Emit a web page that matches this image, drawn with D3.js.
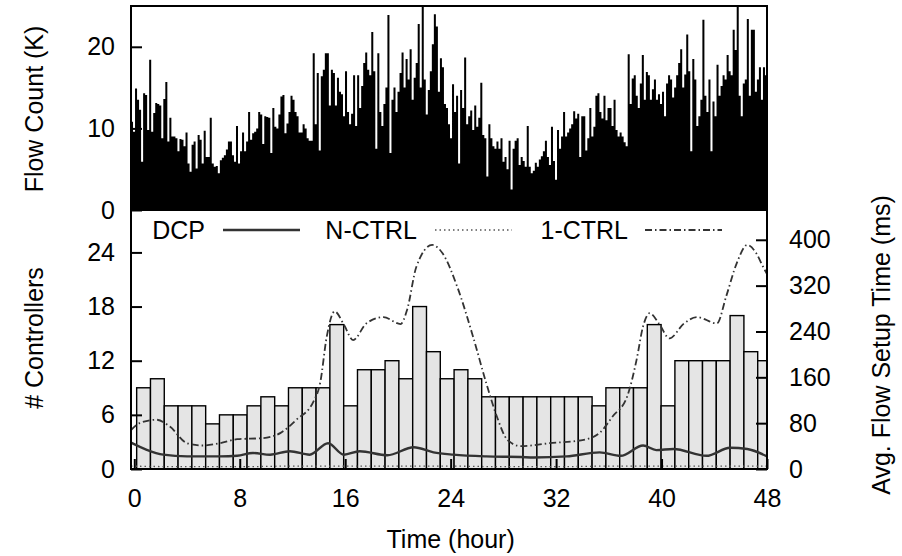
<!DOCTYPE html>
<html>
<head>
<meta charset="utf-8">
<script src="https://cdn.jsdelivr.net/npm/d3@7"></script>
<style>
  body { margin: 0; background: #fff; }
  text { font-family: "Liberation Sans", Arial, sans-serif; }
</style>
</head>
<body>
<div id="container"></div>
<script>
/* CONSTANTS AND GLOBALS */
const width = 902,
  height = 556,
  frame = { left: 131, right: 767, top: 6, mid: 210, bottom: 469 }

/* DATA */
// flow count per slot (K), evenly spread over the 48 hours
const flowCount = [
  10.8, 9.6, 14.9, 13.5, 12.3, 5.9, 14.3, 14.1, 9.8, 18.4, 9.6, 11.9, 13.1, 13.0, 12.8, 8.8,
  13.6, 15.7, 8.4, 11.3, 9.0, 9.0, 8.8, 7.2, 8.7, 8.6, 7.8, 9.5, 5.7, 4.7, 8.0, 8.4,
  5.1, 9.2, 8.6, 5.7, 9.7, 6.5, 6.5, 11.3, 5.7, 5.3, 5.4, 4.5, 6.1, 6.4, 6.7, 7.4,
  8.4, 8.4, 6.7, 5.9, 10.3, 5.7, 7.2, 9.5, 7.2, 8.4, 12.0, 8.6, 9.4, 9.6, 10.0, 12.0,
  11.7, 8.1, 11.5, 11.4, 11.3, 7.0, 12.5, 10.2, 10.0, 11.7, 13.9, 14.1, 9.4, 10.6, 12.0,
  14.0, 13.5, 12.0, 11.5, 9.5, 9.5, 10.5, 10.0, 8.8, 8.5, 8.5, 19.2, 10.5, 16.8, 7.3, 16.4,
  17.2, 19.2, 19.2, 12.8, 17.2, 16.8, 12.8, 16.2, 14.5, 14.2, 11.5, 17.0, 12.0, 10.5, 11.8, 16.5,
  10.3, 16.5, 12.5, 15.2, 18.0, 19.3, 17.2, 16.5, 21.8, 17.0, 7.5, 19.2, 12.0, 10.3, 13.0, 15.0,
  23.9, 7.0, 13.5, 15.0, 12.0, 14.5, 16.8, 19.3, 15.0, 18.5, 16.0, 19.7, 13.5, 16.2, 18.0, 22.8,
  15.0, 25.0, 16.0, 11.7, 14.7, 17.0, 20.3, 24.0, 22.5, 14.5, 18.6,
  17.5, 13.0, 12.5, 10.5, 8.8, 15.4, 12.0, 14.0, 5.7, 14.7, 12.5, 18.7, 10.5, 11.5, 12.2, 9.8,
  12.8, 10.2, 11.3, 15.6, 9.2, 8.8, 4.1, 10.5, 8.8, 7.8, 7.5, 8.4, 7.5, 8.8, 5.9, 6.5,
  5.0, 8.5, 2.5, 7.5, 8.5, 8.8, 5.5, 6.5, 6.0, 5.3, 10.3, 5.3, 4.5, 4.8, 5.8, 5.3,
  6.2, 6.6, 7.2, 8.5, 6.5, 5.5, 10.2, 6.0, 3.7, 9.8, 7.5, 9.0, 12.0, 9.0, 9.5, 10.0,
  10.5, 12.1, 11.2, 11.8, 6.5, 11.5, 11.5, 7.3, 8.8, 12.5, 9.0, 10.2, 14.0, 14.3, 12.0, 11.2,
  14.0, 11.0, 12.5, 12.5, 10.3, 13.5, 9.8, 9.0, 9.5, 9.0, 8.3, 7.8, 19.1, 13.0, 16.1, 16.5,
  14.0, 12.5, 15.5, 19.0, 13.5, 16.9, 16.5, 13.5, 14.8, 16.0, 13.5, 14.2, 13.0, 14.5, 11.5, 15.5,
  16.5, 16.0, 13.8, 15.0, 16.5, 18.0, 19.7, 15.0, 16.6, 21.5, 17.0, 7.2, 18.5, 16.0, 10.3, 11.5,
  13.5, 23.3, 14.0, 12.0, 16.0, 7.2, 13.3, 11.5, 17.8, 14.0, 15.2, 16.5, 16.0, 19.0, 17.0, 16.5,
  22.1, 19.6, 25.0, 14.0, 11.5, 15.5, 16.0, 23.4, 14.0, 22.1, 22.1, 14.5, 16.0, 17.5, 13.5, 17.5, 16.5
]

// number of controllers per interval
const ctrlCount = [
  9, 10, 7, 7, 7, 5, 6, 6, 7, 8, 7, 9, 9, 9, 16, 7, 11, 11, 12, 10, 18, 13, 10,
  11, 10, 8, 8, 8, 8, 8, 8, 8, 8, 7, 9, 9, 9, 16, 7, 12, 12, 12, 12, 17, 13, 12
]

// avg flow setup time (ms)
const dcpHour = [-0.25, 0.9, 2.2, 4.0, 6.5, 7.8, 9.0, 10.3, 11.8, 13.3, 14.7, 15.9, 17.1, 19.2, 21.2,
  22.7, 24.2, 26.7, 29.3, 30.3, 32.8, 35.3, 36.9, 38.6, 39.6, 40.9, 43.4, 45.2, 46.5, 48]
const dcpMs = [46, 34, 25, 22, 22, 23, 28, 25, 31, 25, 45, 25, 31, 24, 38,
  29, 25, 22, 21, 20, 22, 29, 23, 41, 33, 35, 23, 37, 35, 22]

const nCtrlHour = [-0.25, 4, 8, 12, 16, 20, 24, 28, 32, 36, 40, 44, 48]
const nCtrlMs = [5, 4, 4, 5, 5, 5, 5, 4, 4, 5, 5, 5, 5]

const oneCtrlHour = [-0.25, 0.4, 1.7, 2.7, 4.0, 5.2, 6.5, 7.8, 9.8, 11.1, 12.3, 13.6, 14.1, 14.6, 15.2,
  15.9, 16.6, 17.6, 18.9, 20.2, 20.7, 21.4, 22.6, 23.4, 24.5, 25.7, 26.7, 27.5, 28.3, 29.3,
  31.5, 34.1, 35.3, 36.3, 37.4, 38.1, 38.6, 39.1, 39.8, 40.6, 41.7, 42.7, 44.2, 44.9, 45.7,
  46.5, 47.2, 47.7, 48]
const oneCtrlMs = [68, 80, 86, 74, 45, 41, 45, 52, 54, 63, 86, 118, 150, 231, 275,
  252, 225, 254, 265, 253, 278, 353, 391, 376, 318, 231, 150, 92, 51, 40,
  45, 51, 63, 92, 127, 190, 249, 272, 254, 228, 254, 265, 254, 301, 359,
  391, 376, 353, 340]

const hourTicks = [0, 8, 16, 24, 32, 40, 48]
const flowTicks = [0, 10, 20]
const ctrlTicks = [0, 6, 12, 18, 24]
const msTicks = [0, 80, 160, 240, 320, 400]

/* SCALES */
const xScale = d3.scaleLinear().domain([-0.25, 48]).range([frame.left, frame.right])
const yFlow = d3.scaleLinear().domain([0, 25]).range([frame.mid, frame.top])
const yCtrl = d3.scaleLinear().domain([0, 28.7]).range([frame.bottom, frame.mid])
const yMs = d3.scaleLinear().domain([0, 452]).range([frame.bottom, frame.mid])

// controller bars: 46 intervals a bit longer than an hour
const barStart = 0.18, barHours = 1.047

/* SVG */
const svg = d3.select("#container")
  .append("svg")
  .attr("width", width)
  .attr("height", height)

const defs = svg.append("defs")
defs.append("clipPath").attr("id", "clipTop")
  .append("rect")
  .attr("x", frame.left).attr("y", frame.top)
  .attr("width", frame.right - frame.left).attr("height", frame.mid - frame.top)
defs.append("clipPath").attr("id", "clipBottom")
  .append("rect")
  .attr("x", frame.left).attr("y", frame.mid)
  .attr("width", frame.right - frame.left).attr("height", frame.bottom - frame.mid)

// TOP PANEL: flow count as boxes (step area, no seams between boxes)
const step = 48.25 / flowCount.length
const flowPts = flowCount.map((d, i) => [-0.25 + i * step, d])
flowPts.push([48, flowCount[flowCount.length - 1]])

const flowArea = d3.area()
  .x(d => xScale(d[0]))
  .y0(yFlow(0))
  .y1(d => yFlow(d[1]))
  .curve(d3.curveStepAfter)

svg.append("path")
  .attr("clip-path", "url(#clipTop)")
  .attr("fill", "#000")
  .attr("d", flowArea(flowPts))

// BOTTOM PANEL: controller bars
const bottom = svg.append("g").attr("clip-path", "url(#clipBottom)")
bottom.selectAll("rect")
  .data(ctrlCount)
  .join("rect")
  .attr("x", (d, i) => xScale(barStart + i * barHours))
  .attr("width", xScale(barHours) - xScale(0))
  .attr("y", d => yCtrl(d))
  .attr("height", d => yCtrl(0) - yCtrl(d))
  .attr("fill", "#e5e5e5")
  .attr("stroke", "#000")
  .attr("stroke-width", 1.4)

// LINES
const lineGen = d3.line()
  .x(d => xScale(d[0]))
  .y(d => yMs(d[1]))
  .curve(d3.curveMonotoneX)

const series = [
  { name: "DCP", pts: d3.zip(dcpHour, dcpMs), color: "#333", w: 2.4, dash: null },
  { name: "N-CTRL", pts: d3.zip(nCtrlHour, nCtrlMs), color: "#555", w: 1.3, dash: "1.5,3" },
  { name: "1-CTRL", pts: d3.zip(oneCtrlHour, oneCtrlMs), color: "#333", w: 1.8, dash: "7,3,1.5,3" }
]

bottom.selectAll(".line")
  .data(series)
  .join("path")
  .attr("class", "line")
  .attr("fill", "none")
  .attr("stroke", d => d.color)
  .attr("stroke-width", d => d.w)
  .attr("stroke-dasharray", d => d.dash)
  .attr("d", d => lineGen(d.pts))

// LEGEND
const legendText = [205, 417, 628]
const legendLine = [[223, 300], [435, 512], [645, 722]]
const legend = svg.append("g")
series.forEach((s, i) => {
  legend.append("text")
    .attr("x", legendText[i])
    .attr("y", 239)
    .attr("text-anchor", "end")
    .attr("font-size", 25)
    .text(s.name)
  legend.append("line")
    .attr("x1", legendLine[i][0]).attr("x2", legendLine[i][1])
    .attr("y1", 230).attr("y2", 230)
    .attr("stroke", s.color)
    .attr("stroke-width", s.w)
    .attr("stroke-dasharray", s.dash)
})

// AXES
function styleAxis(g) {
  g.select(".domain").remove()
  g.selectAll(".tick line").attr("stroke", "#000").attr("stroke-width", 2)
  g.selectAll(".tick text").attr("fill", "#000")
  g.attr("font-size", 25).attr("font-family", null)
}

svg.append("g")
  .attr("transform", `translate(${frame.left},0)`)
  .call(d3.axisLeft(yFlow).tickValues(flowTicks).tickSize(-11).tickPadding(16))
  .call(styleAxis)

svg.append("g")
  .attr("transform", `translate(${frame.left},0)`)
  .call(d3.axisLeft(yCtrl).tickValues(ctrlTicks).tickSize(-11).tickPadding(16))
  .call(styleAxis)

svg.append("g")
  .attr("transform", `translate(${frame.right},0)`)
  .call(d3.axisRight(yMs).tickValues(msTicks).tickSize(-11).tickPadding(22))
  .call(styleAxis)

svg.append("g")
  .attr("transform", `translate(0,${frame.bottom})`)
  .call(d3.axisBottom(xScale).tickValues(hourTicks).tickSize(-10).tickPadding(20))
  .call(styleAxis)

// FRAMES
svg.append("rect")
  .attr("x", frame.left).attr("y", frame.top)
  .attr("width", frame.right - frame.left).attr("height", frame.mid - frame.top)
  .attr("fill", "none").attr("stroke", "#000").attr("stroke-width", 2)
svg.append("rect")
  .attr("x", frame.left).attr("y", frame.mid)
  .attr("width", frame.right - frame.left).attr("height", frame.bottom - frame.mid)
  .attr("fill", "none").attr("stroke", "#000").attr("stroke-width", 2)

// AXIS TITLES
svg.append("text")
  .attr("transform", "translate(43,109) rotate(-90)")
  .attr("text-anchor", "middle")
  .attr("font-size", 25)
  .text("Flow Count (K)")

svg.append("text")
  .attr("transform", "translate(43,338) rotate(-90)")
  .attr("text-anchor", "middle")
  .attr("font-size", 25)
  .text("# Controllers")

svg.append("text")
  .attr("transform", "translate(890,345) rotate(-90)")
  .attr("text-anchor", "middle")
  .attr("font-size", 25)
  .text("Avg. Flow Setup Time (ms)")

svg.append("text")
  .attr("x", (xScale(0) + xScale(48)) / 2)
  .attr("y", 548)
  .attr("text-anchor", "middle")
  .attr("font-size", 25)
  .text("Time (hour)")
</script>
</body>
</html>
